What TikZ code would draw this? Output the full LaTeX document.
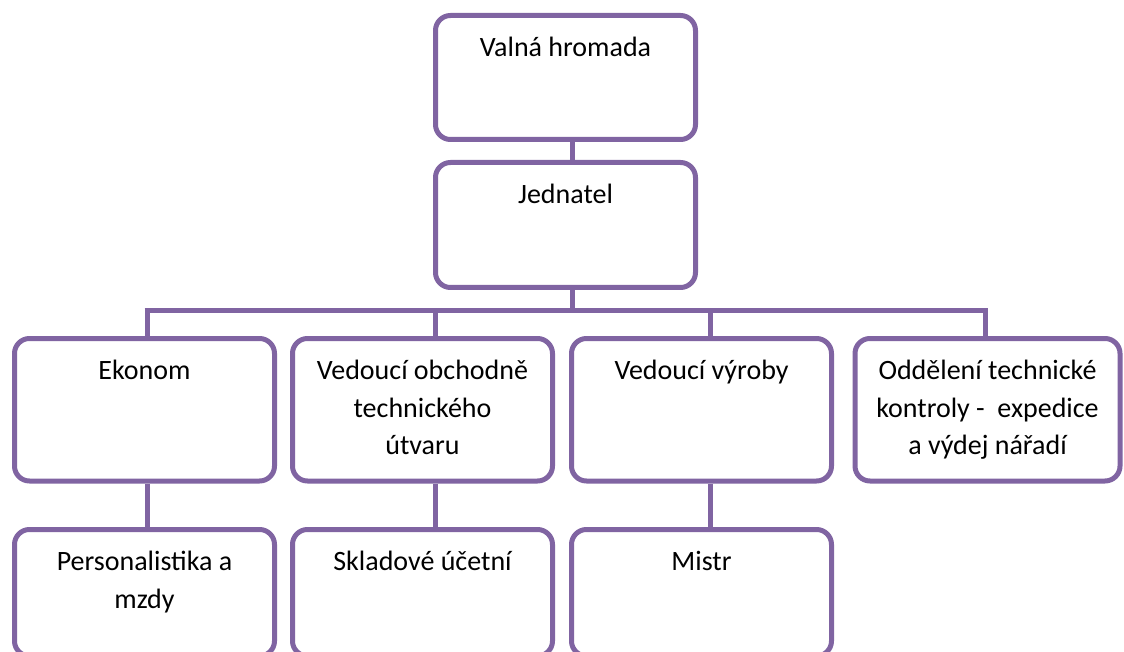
\documentclass[tikz,border=0pt]{standalone}
\usepackage{fontspec}
\setmainfont{Carlito}
\definecolor{orgpurple}{RGB}{128,100,162}
\newcommand{\bxtext}[3]{\parbox[c][#2][t]{#1}{\fontsize{28}{37.5}\selectfont\centering\rule{0pt}{41pt}#3}}
\tikzset{
  orgbox/.style={draw=orgpurple, line width=5pt, rounded corners=15pt, inner sep=0pt, fill=white, text=black},
  orgline/.style={draw=orgpurple, line width=5pt}
}
\begin{document}
\begin{tikzpicture}[x=1pt,y=-1pt]
\useasboundingbox (0,0) rectangle (1124,652);
\clip (0,0) rectangle (1124,652);
% top two
\node[orgbox] (valna) at (565.5,77.5) {\bxtext{260pt}{124pt}{Valná hromada}};
\node[orgbox] (jed) at (565.5,225) {\bxtext{260pt}{125pt}{Jednatel}};
% row 2
\node[orgbox] (ek) at (144.5,409.75) {\bxtext{260pt}{142.5pt}{Ekonom}};
\node[orgbox] (vob) at (422.5,409.75) {\bxtext{260pt}{142.5pt}{Vedoucí obchodně\\technického\\útvaru}};
\node[orgbox] (vvy) at (701.5,409.75) {\bxtext{260pt}{142.5pt}{Vedoucí výroby}};
\node[orgbox] (odd) at (987.5,409.75) {\bxtext{265pt}{142.5pt}{Oddělení technické\\kontroly -~ expedice\\a výdej nářadí}};
% row 3
\node[orgbox] (per) at (144.5,592.75) {\bxtext{260pt}{126.5pt}{Personalistika a\\mzdy}};
\node[orgbox] (skl) at (422.5,592.75) {\bxtext{260pt}{126.5pt}{Skladové účetní}};
\node[orgbox] (mis) at (701.5,592.75) {\bxtext{260pt}{126.5pt}{Mistr}};
% connector coordinates
\coordinate (top) at (572,0);
\coordinate (d1) at (147,310);
\coordinate (d2) at (435,310);
\coordinate (d3) at (710,310);
\coordinate (d4) at (985,310);
% connectors
\draw[orgline] (valna.south -| top) -- (jed.north -| top);
\draw[orgline] (jed.south -| top) -- (top |- d1);
\draw[orgline] ([xshift=-2.5pt]d1) -- ([xshift=2.5pt]d4);
\draw[orgline] (d1) -- (d1 |- ek.north);
\draw[orgline] (d2) -- (d2 |- vob.north);
\draw[orgline] (d3) -- (d3 |- vvy.north);
\draw[orgline] (d4) -- (d4 |- odd.north);
\draw[orgline] (ek.south -| d1) -- (per.north -| d1);
\draw[orgline] (vob.south -| d2) -- (skl.north -| d2);
\draw[orgline] (vvy.south -| d3) -- (mis.north -| d3);
\end{tikzpicture}
\end{document}
